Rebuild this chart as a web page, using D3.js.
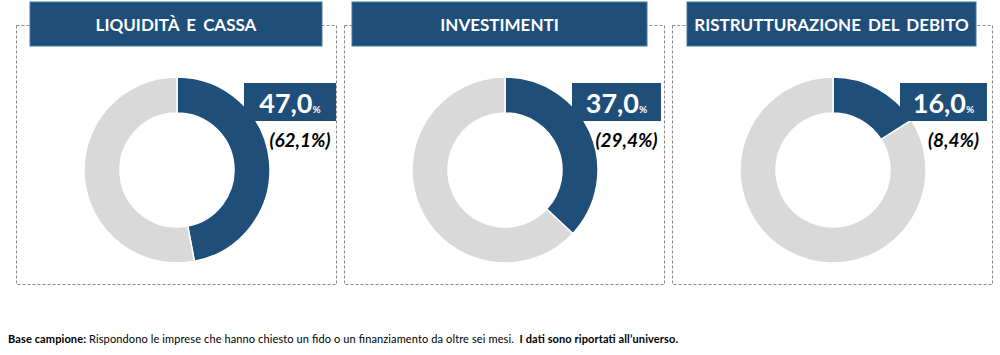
<!DOCTYPE html>
<html><head><meta charset="utf-8">
<script src="https://cdn.jsdelivr.net/npm/d3@7"></script>
<style>body{margin:0;background:#fff}svg{display:block}</style>
</head><body><svg id="c" width="1000" height="355"></svg>
<script>
const titles = ["LIQUIDITÀ E CASSA", "INVESTIMENTI", "RISTRUTTURAZIONE DEL DEBITO"];
const values = [47.0, 37.0, 16.0];
const universeValues = [62.1, 29.4, 8.4];
const footBold1 = "Base campione:";
const footText = " Rispondono le imprese che hanno chiesto un fido o un finanziamento da oltre sei mesi.";
const footBold2 = "  I dati sono riportati all\u2019universo.";

const BLUE = "#1F4E79", GREY = "#D9D9D9";
const FONT = "Lato, 'Open Sans', sans-serif";
const svg = d3.select("#c");
const fmt = v => d3.format(".1f")(v).replace(".", ",");

const panelX = d3.scaleOrdinal().domain(d3.range(3)).range([16, 344, 672]);
const titleX = [30, 352, 687], titleW = [292, 295, 289];
const boxW = [92, 89, 87];
const pie = d3.pie().sort(null).value(d => d);
const arc = d3.arc().innerRadius(57).outerRadius(93);

titles.forEach((t, i) => {
  const px = panelX(i);
  const g = svg.append("g");
  g.append("rect").attr("x", px + 0.5).attr("y", 25.5).attr("width", 320).attr("height", 259)
    .attr("fill", "none").attr("stroke", "#8a8a8a").attr("stroke-width", 1).attr("stroke-dasharray", "3,2");
  g.append("rect").attr("x", titleX[i]).attr("y", 2).attr("width", titleW[i]).attr("height", 44)
    .attr("fill", BLUE).attr("stroke", "#4A76A0").attr("stroke-width", 1);
  g.append("text").attr("x", titleX[i] + titleW[i] / 2).attr("y", 31).attr("text-anchor", "middle")
    .attr("fill", "#fff").attr("font-family", FONT).attr("font-weight", "bold").attr("font-size", 17)
    .attr("word-spacing", 3).text(t);

  const cx = px + 161, cy = 170;
  const dg = g.append("g").attr("transform", `translate(${cx},${cy})`);
  dg.selectAll("path").data(pie([values[i], 100 - values[i]])).join("path")
    .attr("d", arc).attr("fill", (d, j) => j === 0 ? BLUE : GREY)
    .attr("stroke", "#fff").attr("stroke-width", 1.5);

  const bx = px + 228, bw = boxW[i];
  g.append("rect").attr("x", bx).attr("y", 83).attr("width", bw).attr("height", 38).attr("fill", BLUE);
  const vt = g.append("text").attr("x", bx + bw / 2).attr("y", 113).attr("text-anchor", "middle")
    .attr("fill", "#fff").attr("font-family", FONT).attr("font-weight", "bold");
  vt.append("tspan").attr("font-size", 27).text(fmt(values[i]));
  vt.append("tspan").attr("font-size", 10).text("%");
  g.append("text").attr("x", bx + bw / 2 + 10).attr("y", 147).attr("text-anchor", "middle")
    .attr("fill", "#000").attr("font-family", FONT).attr("font-weight", "bold").attr("font-style", "italic")
    .attr("font-size", 19).text("(" + fmt(universeValues[i]) + "%)");
});

const ft = svg.append("text").attr("x", 8).attr("y", 343).attr("font-family", FONT).attr("font-size", 11).attr("fill", "#000")
  .attr("xml:space", "preserve").attr("textLength", 670).attr("lengthAdjust", "spacing");
ft.append("tspan").attr("font-weight", "bold").text(footBold1);
ft.append("tspan").text(footText);
ft.append("tspan").attr("font-weight", "bold").text(footBold2);
</script></body></html>
